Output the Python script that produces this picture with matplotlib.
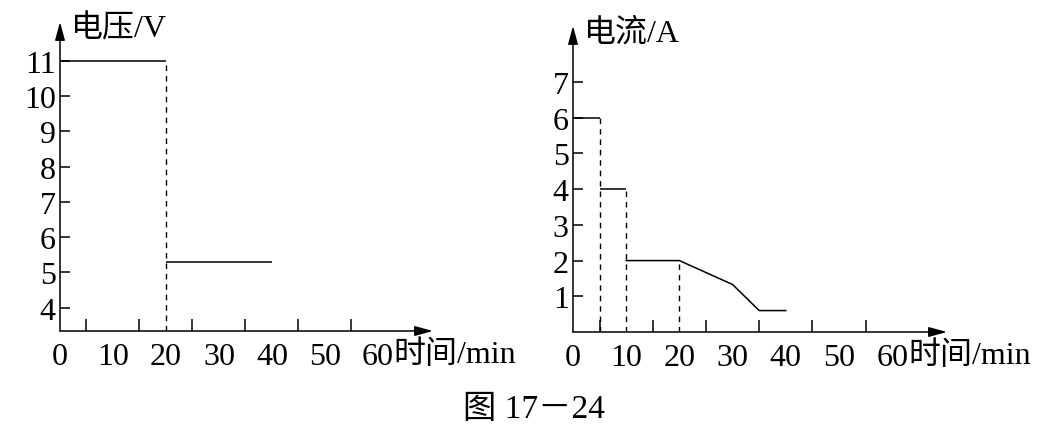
import matplotlib
matplotlib.use("Agg")
import matplotlib.pyplot as plt
import numpy as np

plt.rcParams['font.family'] = ['Liberation Serif', 'Noto Sans CJK SC']

# ---- data ----
volt_t = [0, 20, 40]          # step boundaries (min)
volt_levels = [11, 5.3]       # V
volt_dash_t = [20]
volt_dash_top = [11]

curr_step_t = [0, 5, 10]
curr_levels = [6, 4]          # A
curr_tail_t = [10, 20, 30, 35, 40]
curr_tail = [2, 2, 1.33, 0.6, 0.6]
curr_dash_t = [5, 10, 20]
curr_dash_top = [6, 4, 2]

x_major = [0, 10, 20, 30, 40, 50, 60]
x_minor = list(range(5, 65, 5))
volt_ticks = [4, 5, 6, 7, 8, 9, 10, 11]
curr_ticks = [1, 2, 3, 4, 5, 6, 7]

W, H = 1062, 431
fig = plt.figure(figsize=(W / 100, H / 100), dpi=100)

FS = 23


def make_axes(x0, x1, ytop, ybot):
    return fig.add_axes([x0 / W, (H - ybot) / H, (x1 - x0) / W, (ybot - ytop) / H])


def style(ax, xmax, ylo, yhi, yticks, ylabel):
    ax.set_xlim(0, xmax)
    ax.set_ylim(ylo, yhi)
    for s in ax.spines.values():
        s.set_visible(False)
    for xy in [((0, 0), (1, 0)), ((0, 0), (0, 1))]:
        ax.annotate('', xy=xy[1], xytext=xy[0], xycoords='axes fraction',
                    textcoords='axes fraction',
                    arrowprops=dict(arrowstyle='-|>,head_length=1.1,head_width=0.3',
                                    color='black', lw=1.1, shrinkA=0, shrinkB=0,
                                    mutation_scale=10),
                    annotation_clip=False)
    ax.set_xticks(x_major)
    ax.set_xticks(x_minor, minor=True)
    ax.tick_params(axis='x', which='major', length=0, pad=8, labelsize=FS)
    ax.tick_params(axis='x', which='minor', direction='in', length=8.5, width=1.1)
    ax.set_yticks(yticks)
    ax.tick_params(axis='y', which='major', direction='in', length=7, width=1.1,
                   pad=3, labelsize=FS)
    ax.annotate('时间/min', xy=(60, 0), xycoords=('data', 'axes fraction'),
                xytext=(11.5, -6), textcoords='offset points', ha='left', va='top',
                fontsize=FS)
    ax.annotate(ylabel, xy=(0, 1), xycoords='axes fraction', xytext=(8, -5),
                textcoords='offset points', ha='left', va='center', fontsize=FS)
    ax.set_facecolor('none')


# left chart: voltage
ax1 = make_axes(60, 433, 23, 332)
style(ax1, 70.4, 3.34, 12.1, volt_ticks, '电压/V')
ax1.hlines(volt_levels, volt_t[:-1], volt_t[1:], color='black', lw=1.1)
ax1.vlines(volt_dash_t, 3.34, volt_dash_top, color='black', lw=1.0,
           linestyles=(0, (4, 3.5)))

# right chart: current
ax2 = make_axes(573, 947, 27, 333)
style(ax2, 70.3, 0, 8.57, curr_ticks, '电流/A')
ax2.hlines(curr_levels, curr_step_t[:-1], curr_step_t[1:], color='black', lw=1.1)
ax2.plot(curr_tail_t, curr_tail, color='black', lw=1.1)
ax2.vlines(curr_dash_t, 0, curr_dash_top, color='black', lw=1.0,
           linestyles=(0, (4, 3.5)))

fig.text(534 / W, (H - 410) / H, '图 17－24', ha='center', va='center', fontsize=24)

fig.savefig('out.png', dpi=100)
